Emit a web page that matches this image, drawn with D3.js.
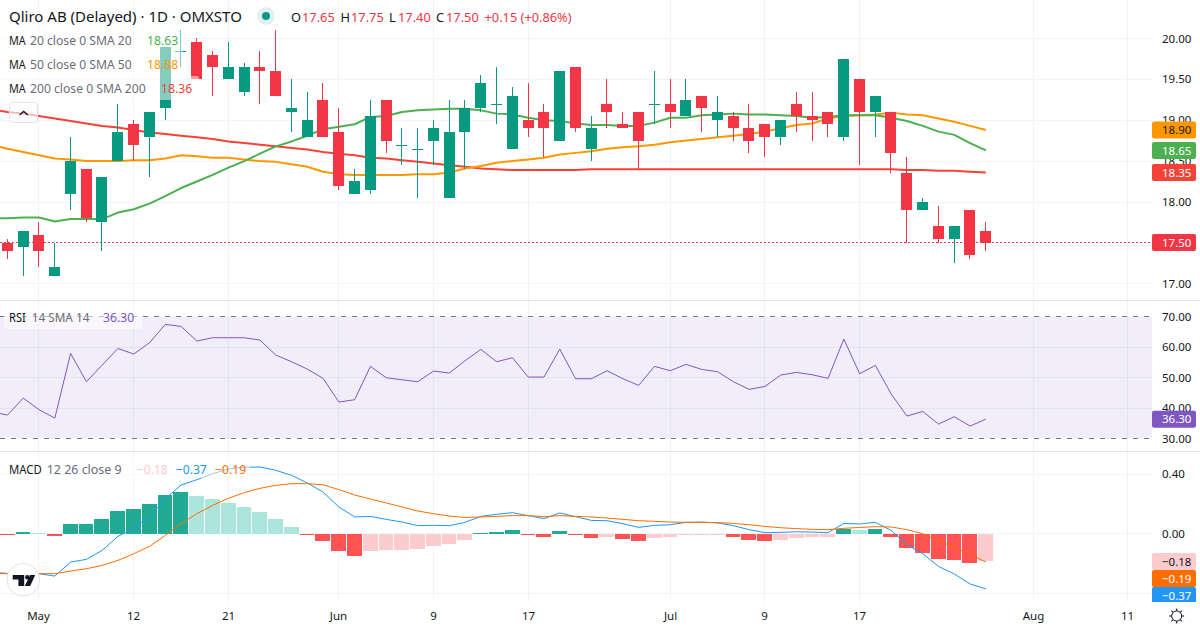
<!DOCTYPE html>
<html>
<head>
<meta charset="utf-8">
<script src="https://cdn.jsdelivr.net/npm/d3@7/dist/d3.min.js"></script>
<style>
html,body{margin:0;padding:0;background:#fff}
svg{display:block}
text{font-family:"Noto Sans",sans-serif}
</style>
</head>
<body>
<svg id="chart" width="1200" height="630"></svg>
<script>
// Daily bars, oldest first: [open, high, low, close]
const opens  = [17.50,17.45,17.60,17.10,18.10,18.40,17.75,18.50,18.95,18.80,19.15,19.85,19.95,19.80,19.50,19.35,19.65,19.60,19.10,18.80,19.25,18.85,18.10,18.15,19.25,18.70,18.65,18.75,18.05,18.85,19.15,19.20,18.65,19.00,19.10,18.75,19.65,18.65,19.20,18.95,19.10,19.20,19.20,19.05,19.30,19.00,19.05,18.90,18.95,18.80,19.20,19.05,19.10,18.80,19.50,19.10,19.10,18.35,17.90,17.70,17.55,17.90,17.65];
const highs  = [17.55,17.65,17.75,17.50,18.80,18.40,18.30,19.20,19.00,19.10,19.90,20.10,20.00,19.85,19.95,19.70,19.85,20.10,19.50,19.35,19.45,19.15,18.40,19.25,19.25,18.90,18.90,19.00,19.25,19.25,19.55,19.65,19.40,19.45,19.20,19.60,19.65,19.05,19.50,19.10,19.10,19.60,19.50,19.50,19.30,19.30,19.10,19.20,18.95,19.00,19.35,19.35,19.10,19.75,19.50,19.30,19.10,18.55,18.05,17.95,17.70,17.90,17.75];
const lows   = [17.30,17.10,17.20,17.10,17.90,17.75,17.40,18.50,18.50,18.30,19.00,19.65,19.50,19.30,19.50,19.30,19.20,19.30,18.85,18.80,18.80,18.15,18.10,18.10,18.60,18.45,18.05,18.45,18.05,18.40,19.10,18.95,18.65,18.80,18.55,18.75,18.85,18.50,18.90,18.90,18.40,18.95,18.90,19.05,18.85,18.80,18.75,18.60,18.55,18.70,18.85,18.75,18.80,18.75,18.45,18.80,18.35,17.50,17.90,17.50,17.25,17.30,17.40];
const closes = [17.40,17.65,17.40,17.20,18.50,17.80,18.30,18.85,18.70,19.10,19.90,19.85,19.50,19.65,19.65,19.65,19.60,19.30,19.15,19.00,18.80,18.20,18.25,19.05,18.75,18.70,18.65,18.90,18.85,19.15,19.45,19.20,19.30,18.90,18.90,19.60,18.90,18.90,19.10,18.90,18.75,19.20,19.10,19.25,19.15,19.10,18.90,18.75,18.80,19.00,19.05,19.00,18.95,19.75,19.10,19.30,18.60,17.90,18.00,17.55,17.70,17.35,17.50];

// Indicator series start one bar earlier than the candles so the lines run in from the left edge
const ma20  = [17.80,17.80,17.81,17.81,17.76,17.79,17.79,17.79,17.87,17.91,17.98,18.07,18.17,18.25,18.33,18.42,18.50,18.59,18.68,18.74,18.81,18.89,18.92,18.95,19.04,19.05,19.10,19.12,19.13,19.14,19.14,19.12,19.08,19.07,19.03,19.00,18.99,18.96,18.94,18.94,18.93,18.93,18.97,19.03,19.03,19.06,19.07,19.08,19.07,19.07,19.06,19.05,19.03,19.04,19.06,19.06,19.06,19.03,18.99,18.93,18.86,18.82,18.72,18.63];
const ma50  = [18.70,18.65,18.61,18.57,18.53,18.52,18.50,18.50,18.50,18.51,18.51,18.53,18.57,18.56,18.54,18.54,18.52,18.50,18.49,18.46,18.43,18.37,18.34,18.33,18.33,18.33,18.33,18.34,18.34,18.36,18.41,18.44,18.48,18.50,18.52,18.54,18.58,18.60,18.62,18.65,18.67,18.68,18.70,18.73,18.75,18.77,18.79,18.81,18.83,18.86,18.90,18.94,18.96,19.02,19.05,19.06,19.07,19.09,19.07,19.06,19.02,18.98,18.93,18.88];
const ma200 = [19.13,19.10,19.08,19.05,19.02,18.99,18.96,18.93,18.91,18.88,18.85,18.83,18.81,18.79,18.77,18.74,18.72,18.70,18.68,18.66,18.64,18.61,18.59,18.57,18.54,18.53,18.51,18.49,18.47,18.45,18.43,18.41,18.40,18.39,18.39,18.39,18.39,18.39,18.40,18.40,18.40,18.40,18.40,18.40,18.40,18.40,18.40,18.40,18.40,18.40,18.40,18.40,18.40,18.40,18.40,18.40,18.40,18.40,18.39,18.39,18.38,18.38,18.37,18.36];
const rsi   = [38.7,37.65,43.22,39.40,36.67,57.87,48.58,54.04,59.51,57.65,61.37,67.38,66.72,61.91,63.01,63.01,63.01,62.24,57.32,55.14,52.73,49.67,41.91,42.68,53.61,49.89,49.23,48.58,52.08,51.42,55.46,59.18,55.14,56.45,50.11,50.11,59.29,49.56,49.56,52.19,49.56,47.38,53.61,52.19,54.26,52.62,51.86,48.58,46.07,47.05,50.76,51.64,50.87,49.67,62.57,51.20,53.93,44.54,37.32,38.85,34.70,37.10,34.04,36.30];
const macdLine = [-.257,-.266,-.270,-.268,-.284,-.190,-.172,-.112,-.018,.038,.112,.235,.326,.362,.402,.434,.445,.447,.425,.391,.340,.279,.179,.112,.116,.096,.078,.054,.056,.054,.076,.116,.130,.141,.121,.101,.139,.114,.089,.087,.067,.042,.056,.060,.076,.078,.072,.054,.027,.007,.009,.013,.011,.007,.069,.065,.076,.022,-.074,-.134,-.219,-.270,-.337,-.37];
const signalLine = [-.268,-.268,-.270,-.268,-.268,-.250,-.235,-.212,-.179,-.134,-.085,-.011,.067,.134,.190,.237,.275,.304,.324,.335,.335,.328,.295,.259,.232,.206,.179,.152,.134,.118,.109,.112,.116,.121,.121,.114,.121,.116,.112,.105,.096,.087,.083,.078,.076,.076,.074,.069,.060,.049,.040,.034,.029,.027,.036,.042,.047,.045,.027,.000,-.049,-.089,-.139,-.19];
// Histogram has one value per candle
const macdHist = [-.012,.01,.005,-.018,.063,.063,.096,.15,.163,.197,.257,.277,.25,.23,.203,.177,.143,.096,.042,-.011,-.051,-.118,-.152,-.118,-.112,-.112,-.105,-.085,-.072,-.045,.004,.009,.022,-.011,-.025,.016,-.011,-.031,-.025,-.038,-.051,-.031,-.025,-.011,-.011,-.010,-.025,-.045,-.051,-.045,-.031,-.025,-.025,.034,.022,.029,-.025,-.098,-.132,-.172,-.179,-.199,-.18];

// Time axis labels by bar number
const timeTicks = [[2,"May"],[8,"12"],[14,"21"],[21,"Jun"],[27,"9"],[33,"17"],[42,"Jul"],[48,"9"],[54,"17"],[65,"Aug"],[71,"11"]];
const priceTicks = [20,19.5,19,18.5,18,17];
const rsiTicks = [70,60,50,40,30];
const macdTicks = [0.4,0,-0.4];

const UP="#089981", DOWN="#F23645", GRID="#F0F3FA", TEXT="#131722", MUTED="#6A6D78";
const C20="#4CAF50", C50="#FF9800", C200="#F44336", CRSI="#7E57C2", CMACD="#2196F3", CSIG="#FF6D00";

const svg=d3.select("#chart");
const plotRight=1152;
const x=d3.scaleLinear().domain([0,62]).range([7.1,985.46]);
const yP=d3.scaleLinear().domain([17,20]).range([283.7,38.4]);
const yR=d3.scaleLinear().domain([30,70]).range([438.4,316.4]);
const yM=d3.scaleLinear().domain([-0.4,0.4]).range([593.4,474]);
const fmt=d3.format(".2f");
const minus=v=>fmt(v).replace("-","\u2212");
// Device pixel helpers for hairlines
const col=i=>Math.floor(x(i)+.2);
const row=y=>Math.floor(y+.1)+.5;

// Grid
const grid=svg.append("g").attr("stroke",GRID).attr("shape-rendering","crispEdges");
grid.selectAll("line.v").data(timeTicks).join("line").attr("class","v")
  .attr("x1",d=>col(d[0])+.5).attr("x2",d=>col(d[0])+.5).attr("y1",0).attr("y2",602);
[[priceTicks,yP],[rsiTicks.slice(1,-1),yR],[macdTicks,yM]].forEach(([t,s])=>{
  grid.selectAll(null).data(t).join("line").attr("x1",0).attr("x2",plotRight)
    .attr("y1",d=>row(s(d))).attr("y2",d=>row(s(d)));
});

// Pane separators
svg.append("g").attr("stroke","#E0E3EB").attr("shape-rendering","crispEdges")
  .selectAll("line").data([300.5,451.5]).join("line")
  .attr("x1",0).attr("x2",1200).attr("y1",d=>d).attr("y2",d=>d);

// Indicator lines
function series(values,scale,color,width){
  const line=d3.line().x((d,i)=>x(i-1)+.4).y(d=>scale(d));
  svg.append("path").attr("d",line(values)).attr("fill","none").attr("stroke",color).attr("stroke-width",width).attr("stroke-linejoin","round");
}
// Moving averages sit under the candles
series(ma200,yP,C200,2);
series(ma50,yP,C50,2);
series(ma20,yP,C20,2);

// Last close marker
const last=closes[closes.length-1];
svg.append("line").attr("x1",0).attr("x2",plotRight).attr("y1",row(yP(last))).attr("y2",row(yP(last)))
  .attr("stroke",DOWN).attr("stroke-dasharray","2 2").attr("shape-rendering","crispEdges");

// Candles
const candles=d3.range(opens.length).map(i=>({i,o:opens[i],h:highs[i],l:lows[i],c:closes[i]}));
const cg=svg.append("g").attr("shape-rendering","crispEdges");
cg.selectAll("line").data(candles).join("line")
  .attr("x1",d=>col(d.i)+.5).attr("x2",d=>col(d.i)+.5)
  .attr("y1",d=>yP(d.h)).attr("y2",d=>yP(d.l))
  .attr("stroke",d=>d.c>=d.o?UP:DOWN);
cg.selectAll("rect").data(candles).join("rect")
  .attr("x",d=>col(d.i)-5).attr("width",11)
  .attr("y",d=>yP(Math.max(d.o,d.c)))
  .attr("height",d=>Math.max(1,Math.abs(yP(d.o)-yP(d.c))))
  .attr("fill",d=>d.c>=d.o?UP:DOWN);

// RSI band
svg.append("rect").attr("x",0).attr("width",plotRight).attr("y",yR(70)).attr("height",yR(30)-yR(70)).attr("fill",CRSI).attr("opacity",.1);
svg.append("g").attr("stroke","#787B86").attr("stroke-dasharray","5 6").attr("shape-rendering","crispEdges")
  .selectAll("line").data([70,30]).join("line").attr("x1",0).attr("x2",plotRight)
  .attr("y1",d=>row(yR(d))).attr("y2",d=>row(yR(d)));
series(rsi,yR,CRSI,1);

// MACD histogram: shade follows whether the bar grew or shrank against the previous one
const histColor=(v,i)=>{
  const p=i?macdHist[i-1]:0;
  if(v>=0) return v>=p?"#22AB94":"#ACE5DC";
  return v<p?"#FF5252":"#FCCBCD";
};
svg.append("g").attr("shape-rendering","crispEdges").selectAll("rect").data(macdHist).join("rect")
  .attr("x",(d,i)=>col(i)-7).attr("width",(d,i)=>col(i+1)-col(i)-1)
  .attr("y",d=>Math.min(yM(d),yM(0))).attr("height",d=>Math.abs(yM(d)-yM(0)))
  .attr("fill",histColor);
series(macdLine,yM,CMACD,1);
series(signalLine,yM,CSIG,1);

// Translucent plates behind the indicator legends
const plate=[[0,28,183,24],[0,52,183,24],[0,76,199,24],[4,309,138,20],[4,458,246,20]];
svg.append("g").selectAll("rect").data(plate).join("rect")
  .attr("x",d=>d[0]).attr("y",d=>d[1]).attr("width",d=>d[2]).attr("height",d=>d[3]).attr("rx",2)
  .attr("fill","#fff").attr("opacity",.5);

// Legends: [x, string, colour, fitted width]
function legend(y,parts,size){
  parts.forEach(p=>{
    const t=svg.append("text").attr("x",p[0]).attr("y",y).attr("font-size",size||12.2).attr("fill",p[2]).text(p[1]);
    if(p[3]) t.attr("textLength",p[3]).attr("lengthAdjust","spacingAndGlyphs");
  });
}
legend(22,[[9,"Qliro AB (Delayed) · 1D · OMXSTO",TEXT]],15);
legend(22,[[291,"O",TEXT],[302,"17.65",DOWN],[340.5,"H",TEXT],[351,"17.75",DOWN],[389,"L",TEXT],[398,"17.40",DOWN],[436,"C",TEXT],[446,"17.50",DOWN],[484.5,"+0.15 (+0.86%)",DOWN]],12.8);
legend(45,[[9,"MA",TEXT,16.7],[30,"20 close 0 SMA 20",MUTED,101.7],[147,"18.63",C20]]);
legend(69,[[9,"MA",TEXT,16.7],[30,"50 close 0 SMA 50",MUTED,101.7],[147,"18.88",C50]]);
legend(93,[[9,"MA",TEXT,16.7],[30,"200 close 0 SMA 200",MUTED,115.7],[161,"18.36",C200]]);
legend(322,[[9,"RSI",TEXT,16.7],[31.7,"14 SMA 14",MUTED,57.7],[103,"36.30",CRSI]]);
legend(473.5,[[9,"MACD",TEXT,32.7],[46.7,"12 26 close 9",MUTED,75],[136.7,"\u22120.18","#FCCBCD"],[175.7,"\u22120.37",CMACD],[215,"\u22120.19",CSIG]]);

// Live status dot and collapse button
svg.append("circle").attr("cx",266).attr("cy",16).attr("r",9).attr("fill","#089981").attr("opacity",.12);
svg.append("circle").attr("cx",266).attr("cy",16).attr("r",4).attr("fill","#089981");
svg.append("rect").attr("x",9.5).attr("y",102.5).attr("width",28).attr("height",20).attr("rx",3).attr("fill","#fff").attr("fill-opacity",.6).attr("stroke","#E0E3EB");
svg.append("path").attr("d","M19.5 115l4.2-3.6 4.2 3.6").attr("fill","none").attr("stroke",TEXT).attr("stroke-width",1.3);

// Axis tick labels
const axisText=(data,scale,f)=>svg.append("g").selectAll("text").data(data).join("text")
  .attr("x",1162).attr("y",d=>scale(d)+4.2).attr("font-size",11.5).attr("fill",TEXT).text(f);
axisText(priceTicks,yP,fmt);
axisText(rsiTicks,yR,fmt);
axisText([0.4,0],yM,fmt);
svg.append("g").selectAll("text").data(timeTicks).join("text")
  .attr("x",d=>col(d[0])+.5).attr("y",620).attr("text-anchor","middle").attr("font-size",11.5).attr("fill",TEXT).text(d=>d[1]);

// Value tags on the scale; moving averages show the value snapped to the 0.05 tick
const snap=v=>fmt(Math.round(v/0.05)*0.05);
const tags=[
  [yP(last)-.4,fmt(last),DOWN,"#fff"],
  [yP(ma50[63]),snap(ma50[63]),C50,TEXT],
  [yP(ma20[63]),snap(ma20[63]),C20,"#fff"],
  [yP(ma200[63]),snap(ma200[63]),C200,"#fff"],
  [yR(36.30),"36.30",CRSI,"#fff"],
  [561.6,minus(-0.18),"#FCCBCD",TEXT],
  [578.5,minus(-0.19),CSIG,"#fff"],
  [595.5,minus(-0.37),CMACD,"#fff"]
];
svg.append("clipPath").attr("id","tagClip").append("rect").attr("x",1152).attr("y",0).attr("width",48).attr("height",602);
const tg=svg.append("g").attr("clip-path","url(#tagClip)").selectAll("g").data(tags).join("g").attr("transform",d=>`translate(1152,${d[0]})`);
tg.append("rect").attr("y",-8.5).attr("width",44).attr("height",17).attr("rx",2).attr("fill",d=>d[2]);
tg.append("text").attr("x",10).attr("y",4.2).attr("font-size",11.5).attr("fill",d=>d[3]).text(d=>d[1]);

// Attribution badge
svg.append("circle").attr("cx",23.3).attr("cy",579.7).attr("r",16.3).attr("fill","#fff").attr("stroke","#E0E3EB");
svg.append("path").attr("d","M12.7 575h11.5v11h-5.8v-6.5h-5.7z").attr("fill",TEXT);
svg.append("circle").attr("cx",27.3).attr("cy",577.2).attr("r",2.2).attr("fill",TEXT);
svg.append("path").attr("d","M30 575h5.2l-5 11h-5.4z").attr("fill",TEXT);

// Settings cog
const cog=svg.append("g").attr("transform","translate(1176.7,616)").attr("fill","none").attr("stroke",TEXT);
cog.append("circle").attr("r",5);
cog.selectAll("line").data(d3.range(8)).join("line").attr("y1",-5).attr("y2",-7.5).attr("transform",d=>`rotate(${d*45})`);
</script>
</body>
</html>
